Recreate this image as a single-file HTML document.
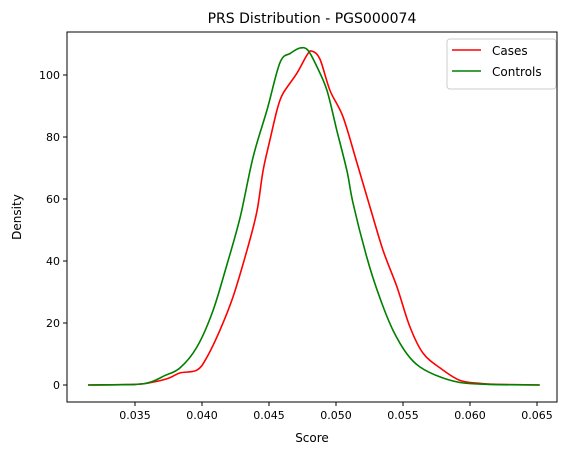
<!DOCTYPE html>
<html><head><meta charset="utf-8"><style>
body{margin:0;background:#fff;}
svg text{font-family:"DejaVu Sans","Liberation Sans",sans-serif;}
</style></head><body>
<svg id="chart" width="571" height="455" xmlns="http://www.w3.org/2000/svg">
<rect width="571" height="455" fill="#fff"/>
<text x="312" y="23" text-anchor="middle" font-size="14">PRS Distribution - PGS000074</text>
<g id="plot"></g>
<text x="312" y="442" text-anchor="middle" font-size="12">Score</text>
<text transform="translate(21,217) rotate(-90)" text-anchor="middle" font-size="12">Density</text>
<g>
<rect x="447" y="39" width="109" height="50" rx="3" fill="#fff" stroke="#ccc"/>
<line x1="452" y1="50" x2="481" y2="50" stroke="red" stroke-width="1.5"/>
<text x="492" y="55" font-size="12">Cases</text>
<line x1="452" y1="71" x2="481" y2="71" stroke="green" stroke-width="1.5"/>
<text x="492" y="76" font-size="12">Controls</text>
</g>
</svg>
<script>
const xTicks=[0.035,0.040,0.045,0.050,0.055,0.060,0.065];
const xTickLabels=["0.035","0.040","0.045","0.050","0.055","0.060","0.065"];
const yTicks=[0,20,40,60,80,100];
const yTickLabels=["0","20","40","60","80","100"];
const casesX=[0.0315,0.0350,0.0362,0.0375,0.03836,0.03963,0.04037,0.04134,0.04231,0.04336,0.04410,0.04455,0.04507,0.04560,0.04604,0.04709,0.04784,0.04821,0.04881,0.04955,0.05052,0.05157,0.05254,0.05351,0.05455,0.05552,0.05649,0.05776,0.05925,0.06075,0.06224,0.0652];
const casesY=[0,0.2,0.8,2.2,3.9,4.8,9,17.7,28.4,43.5,56,69,79,88.7,94,100.6,106.5,107.7,105,95,86.5,71.6,57.4,43.5,31.6,18.7,10.3,5.5,1.5,0.5,0.2,0];
const controlsX=[0.0315,0.0350,0.0362,0.0372,0.03836,0.03963,0.04082,0.04187,0.04284,0.04381,0.04485,0.04582,0.04660,0.04731,0.04790,0.04858,0.04933,0.05007,0.05082,0.05127,0.05231,0.05328,0.05425,0.05530,0.05627,0.05776,0.05925,0.06075,0.06224,0.0652];
const controlsY=[0,0.2,1,3,5.5,12.3,24,39,54,73.5,88.7,104,107,108.7,108,102.6,95,82,69,58.7,41,28,17.7,10,5.8,2.6,0.8,0.3,0.1,0];
const L=67,R=557,T=32,B=402;
const sx=v=>135+(v-0.035)/0.005*67;
const sy=v=>385-v*3.1;
const NS="http://www.w3.org/2000/svg";
const g=document.getElementById('plot');
function mk(t,a){const e=document.createElementNS(NS,t);for(const k in a)e.setAttribute(k,a[k]);return e;}
xTicks.forEach((v,i)=>{
 const l=mk('line',{x1:sx(v),x2:sx(v),y1:B,y2:B+4,stroke:'#000'});
 
 
 g.appendChild(l);
 const t=mk('text',{x:sx(v),y:B+17,'text-anchor':'middle','font-size':'11'});
 t.textContent=xTickLabels[i];
 
 
 g.appendChild(t);
});
yTicks.forEach((v,i)=>{
 const l=mk('line',{x1:L-4,x2:L,y1:sy(v),y2:sy(v),stroke:'#000'});
 
 
 g.appendChild(l);
 const t=mk('text',{x:L-7,y:sy(v)+4,'text-anchor':'end','font-size':'11'});
 t.textContent=yTickLabels[i];
 
 
 g.appendChild(t);
});
function line(xs,ys,c,name){
 const P=xs.map((x,i)=>[sx(x),sy(ys[i])]);
 let d='M'+P[0][0].toFixed(1)+','+P[0][1].toFixed(1);
 for(let i=0;i<P.length-1;i++){
  const p0=P[Math.max(0,i-1)],p1=P[i],p2=P[i+1],p3=P[Math.min(P.length-1,i+2)];
  const c1=[p1[0]+(p2[0]-p0[0])/6,p1[1]+(p2[1]-p0[1])/6];
  const c2=[p2[0]-(p3[0]-p1[0])/6,p2[1]-(p3[1]-p1[1])/6];
  d+='C'+c1.map(n=>n.toFixed(1)).join(',')+' '+c2.map(n=>n.toFixed(1)).join(',')+' '+p2.map(n=>n.toFixed(1)).join(',');
 }
 const p=mk('path',{d:d,fill:'none',stroke:c,'stroke-width':'1.6','stroke-linejoin':'round'});
 
 
 g.appendChild(p);
}
line(casesX,casesY,'red','cases-line');
line(controlsX,controlsY,'green','controls-line');
const f=mk('rect',{x:L,y:T,width:R-L,height:B-T,fill:'none',stroke:'#000','stroke-width':'1'});


g.appendChild(f);
</script>
</body></html>
